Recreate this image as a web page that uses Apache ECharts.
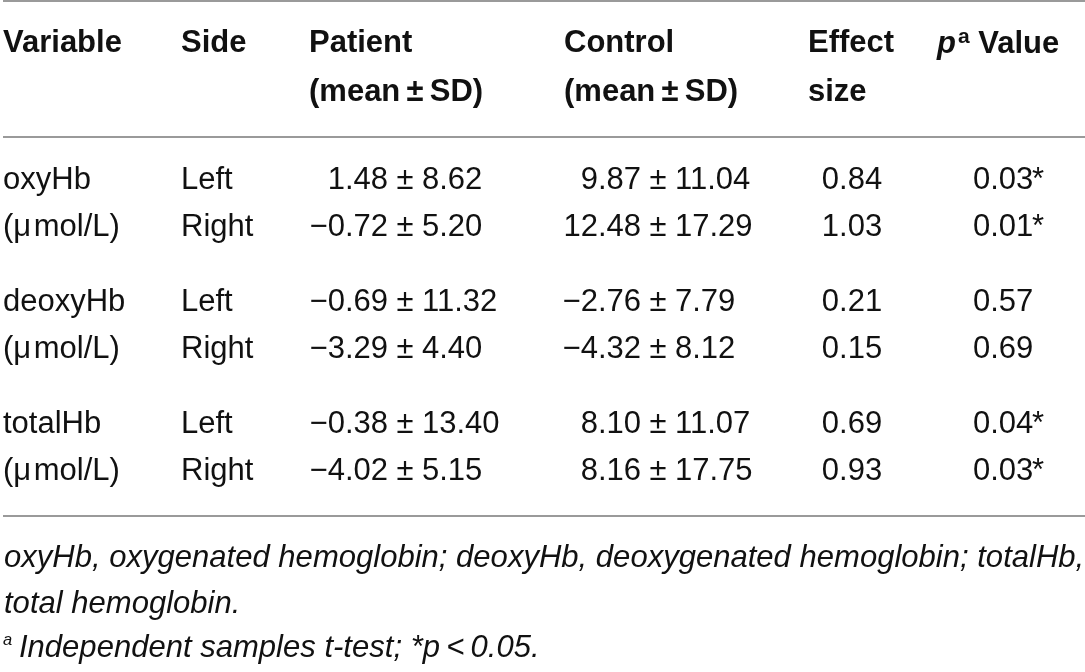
<!DOCTYPE html>
<html><head><meta charset="utf-8">
<script src="https://cdn.jsdelivr.net/npm/echarts@6/dist/echarts.min.js"></script>
<style>html,body{margin:0;padding:0;background:#fff}#c{width:1085px;height:672px}</style>
</head><body><div id="c"></div>
<script>
var variables = ['oxyHb', 'deoxyHb', 'totalHb'];
var unitLabel = '(\u03bc\u200amol/L)';
var sides = ['Left', 'Right'];
var patientMean = [1.48, -0.72, -0.69, -3.29, -0.38, -4.02];
var patientSD = [8.62, 5.20, 11.32, 4.40, 13.40, 5.15];
var controlMean = [9.87, 12.48, -2.76, -4.32, 8.10, 8.16];
var controlSD = [11.04, 17.29, 7.79, 8.12, 11.07, 17.75];
var effectSize = [0.84, 1.03, 0.21, 0.15, 0.69, 0.93];
var pValues = [0.03, 0.01, 0.57, 0.69, 0.04, 0.03];
var footnote1 = 'oxyHb, oxygenated hemoglobin; deoxyHb, deoxygenated hemoglobin; totalHb,';
var footnote2 = 'total hemoglobin.';
var footnote3 = 'Independent samples t-test; *p\u2009<\u20090.05.';

var FONT = "'Liberation Sans', Arial, Helvetica, sans-serif";
var FS = 31;
var ink = '#111';

function fmt(v) { var s = Math.abs(v).toFixed(2); return (v < 0 ? '\u2212' : '') + s; }

var els = [];
function txt(x, y, s, opt) {
  opt = opt || {};
  els.push({
    type: 'text', x: x, y: y, silent: true,
    scaleX: opt.scaleX || 1,
    style: {
      text: s, fill: ink,
      font: (opt.style || 'normal') + ' ' + (opt.weight || 'normal') + ' ' + (opt.size || FS) + 'px ' + FONT,
      align: opt.align || 'left', verticalAlign: 'middle',
      rich: opt.rich
    }
  });
}
function rule(y) {
  els.push({ type: 'rect', silent: true, shape: { x: 3, y: y - 1, width: 1082, height: 2 }, style: { fill: '#9a9a9a' } });
}

rule(1); rule(137); rule(516);

// header
var hY1 = 43, hY2 = 92;
var colX = { variable: 3, side: 181, patient: 309, control: 564, effect: 808, p: 937 };
txt(colX.variable, hY1, 'Variable', { weight: 'bold' });
txt(colX.side, hY1, 'Side', { weight: 'bold' });
txt(colX.patient, hY1, 'Patient', { weight: 'bold' });
txt(colX.patient, hY2, '(mean\u2009\u00b1\u2009SD)', { weight: 'bold' });
txt(colX.control, hY1, 'Control', { weight: 'bold' });
txt(colX.control, hY2, '(mean\u2009\u00b1\u2009SD)', { weight: 'bold' });
txt(colX.effect, hY1, 'Effect', { weight: 'bold' });
txt(colX.effect, hY2, 'size', { weight: 'bold' });
txt(colX.p, hY1, '{p|p}{a|a}{v| Value}', { weight: 'bold', rich: {
  p: { font: 'italic bold ' + FS + 'px ' + FONT, fill: ink, verticalAlign: 'bottom' },
  a: { font: 'bold 21px ' + FONT, fill: ink, verticalAlign: 'top', padding: [0, 0, 12, 2] },
  v: { font: 'bold ' + FS + 'px ' + FONT, fill: ink, verticalAlign: 'bottom' }
}});

// body
var firstY = 180, rowGap = 47.5, groupGap = 122;
var pmCenter = 405, cmCenter = 658, pmGap = 17, effCenter = 852, pLeft = 973, starLeft = 1032;
for (var g = 0; g < variables.length; g++) {
  for (var r = 0; r < sides.length; r++) {
    var i = g * 2 + r;
    var y = firstY + g * groupGap + r * rowGap;
    txt(colX.variable, y, r === 0 ? variables[g] : unitLabel);
    txt(colX.side, y, sides[r]);
    txt(pmCenter - pmGap, y, fmt(patientMean[i]), { align: 'right' });
    txt(pmCenter, y, '\u00b1', { align: 'center' });
    txt(pmCenter + pmGap, y, fmt(patientSD[i]));
    txt(cmCenter - pmGap, y, fmt(controlMean[i]), { align: 'right' });
    txt(cmCenter, y, '\u00b1', { align: 'center' });
    txt(cmCenter + pmGap, y, fmt(controlSD[i]));
    txt(effCenter, y, effectSize[i].toFixed(2), { align: 'center' });
    txt(pLeft, y, pValues[i].toFixed(2));
    if (pValues[i] < 0.05) txt(starLeft, y, '*');
  }
}

// footnotes
var fnSize = 32, fnScale = 0.97;
txt(4, 558, footnote1, { style: 'italic', size: fnSize, scaleX: fnScale });
txt(4, 604, footnote2, { style: 'italic', size: fnSize, scaleX: fnScale });
txt(3, 648, '{s|a}{t|' + footnote3 + '}', { style: 'italic', size: fnSize, scaleX: fnScale, rich: {
  s: { font: 'italic 17px ' + FONT, fill: ink, verticalAlign: 'top', padding: [0, 7, 15, 0] },
  t: { font: 'italic ' + fnSize + 'px ' + FONT, fill: ink, verticalAlign: 'bottom' }
}});

var chart = echarts.init(document.getElementById('c'), null, { renderer: 'canvas' });
chart.setOption({ backgroundColor: '#fff', animation: false, graphic: { elements: els } });
</script></body></html>
